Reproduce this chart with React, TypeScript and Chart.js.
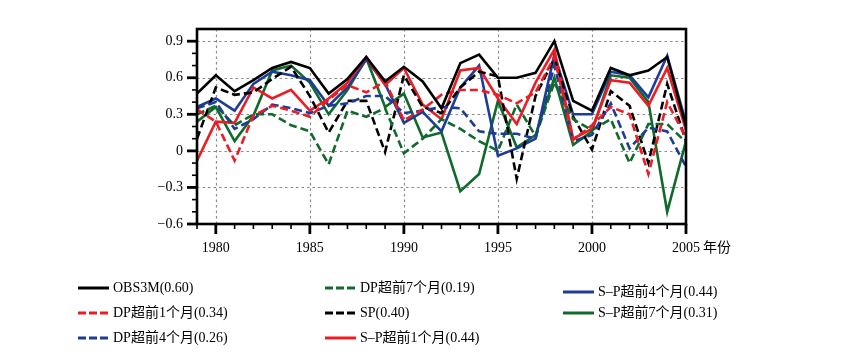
import React, { useEffect, useRef } from "react";
import { Chart, registerables } from "chart.js";

Chart.register(...registerables);

// ---------- data ----------
const years = [
  1979, 1980, 1981, 1982, 1983, 1984, 1985, 1986, 1987, 1988, 1989, 1990, 1991, 1992,
  1993, 1994, 1995, 1996, 1997, 1998, 1999, 2000, 2001, 2002, 2003, 2004, 2005,
];
const obs3m = [0.47, 0.62, 0.49, 0.58, 0.68, 0.73, 0.68, 0.47, 0.59, 0.77, 0.57, 0.69, 0.57, 0.35, 0.72, 0.79, 0.6, 0.6, 0.64, 0.9, 0.41, 0.33, 0.68, 0.62, 0.66, 0.77, 0.2];
const dp1 = [0.34, 0.24, -0.08, 0.29, 0.37, 0.33, 0.28, 0.42, 0.54, 0.48, 0.57, 0.25, 0.34, 0.46, 0.5, 0.5, 0.46, 0.39, 0.48, 0.77, 0.09, 0.21, 0.36, 0.3, -0.19, 0.4, 0.11];
const dp4 = [0.35, 0.4, 0.18, 0.26, 0.38, 0.35, 0.31, 0.37, 0.39, 0.45, 0.45, 0.31, 0.33, 0.36, 0.35, 0.16, 0.14, 0.14, 0.1, 0.7, 0.08, 0.13, 0.39, 0.02, 0.19, 0.16, -0.13];
const dp7 = [0.3, 0.37, 0.21, 0.3, 0.3, 0.21, 0.16, -0.11, 0.33, 0.28, 0.35, -0.02, 0.1, 0.26, 0.18, 0.08, 0.0, 0.38, 0.12, 0.56, 0.26, 0.17, 0.26, -0.1, 0.22, 0.22, 0.07];
const sp = [0.1, 0.52, 0.46, 0.48, 0.59, 0.69, 0.45, 0.15, 0.41, 0.41, -0.01, 0.62, 0.36, 0.31, 0.52, 0.65, 0.61, -0.23, 0.45, 0.76, 0.28, 0.01, 0.49, 0.37, -0.1, 0.55, 0.08];
const sp1 = [-0.08, 0.24, 0.23, 0.52, 0.43, 0.5, 0.33, 0.43, 0.56, 0.77, 0.54, 0.68, 0.38, 0.26, 0.66, 0.68, 0.43, 0.22, 0.56, 0.83, 0.1, 0.18, 0.58, 0.56, 0.37, 0.68, 0.17];
const sp4 = [0.36, 0.43, 0.33, 0.55, 0.65, 0.62, 0.58, 0.37, 0.52, 0.75, 0.55, 0.23, 0.32, 0.16, 0.52, 0.7, -0.04, 0.02, 0.1, 0.79, 0.3, 0.3, 0.65, 0.62, 0.44, 0.78, 0.23];
const sp7 = [0.24, 0.36, 0.08, 0.29, 0.66, 0.7, 0.56, 0.3, 0.5, 0.76, 0.36, 0.47, 0.11, 0.15, -0.33, -0.19, 0.41, 0.03, 0.13, 0.6, 0.05, 0.16, 0.62, 0.6, 0.4, -0.5, 0.08];

const seriesLabels = [
  "OBS3M(0.60)",
  "DP超前1个月(0.34)",
  "DP超前4个月(0.26)",
  "DP超前7个月(0.19)",
  "SP(0.40)",
  "S–P超前1个月(0.44)",
  "S–P超前4个月(0.44)",
  "S–P超前7个月(0.31)",
];
const seriesValues = [obs3m, dp1, dp4, dp7, sp, sp1, sp4, sp7];

const yTickValues = [-0.6, -0.3, 0, 0.3, 0.6, 0.9];
const yMinorValues = [-0.5, -0.4, -0.2, -0.1, 0.1, 0.2, 0.4, 0.5, 0.7, 0.8];
const xTickValues = [1980, 1985, 1990, 1995, 2000, 2005];
const xAxisUnit = "年份";

// ---------- styles ----------
const BLACK = "#000000";
const RED = "#ec1c24";
const BLUE = "#1d3c96";
const GREEN = "#0f6a2c";
const seriesColors = [BLACK, RED, BLUE, GREEN, BLACK, RED, BLUE, GREEN];
const seriesDashed = [false, true, true, true, true, false, false, false];

const FONT = "'Liberation Serif', 'Noto Sans CJK SC', serif";

const legendSlots = [
  { left: 78, top: 288 },
  { left: 78, top: 313 },
  { left: 78, top: 338 },
  { left: 325, top: 288 },
  { left: 325, top: 313 },
  { left: 325, top: 338 },
  { left: 563, top: 292 },
  { left: 563, top: 313 },
];

function fmtY(v: number): string {
  const r = Math.round(v * 10) / 10;
  if (r === 0) return "0";
  return r.toFixed(1).replace("-", "\u2212");
}

const decoPlugin = {
  id: "deco",
  beforeDatasetsDraw(chart: any) {
    const { ctx, chartArea: a, scales } = chart;
    const x = scales.x;
    const y = scales.y;
    ctx.save();
    ctx.strokeStyle = "#8a8a8a";
    ctx.lineWidth = 1.2;
    ctx.setLineDash([2.5, 3]);
    for (const v of xTickValues) {
      if (v >= x.max || v <= x.min) continue;
      const px = Math.round(x.getPixelForValue(v)) + 0.5;
      ctx.beginPath();
      ctx.moveTo(px, a.top);
      ctx.lineTo(px, a.bottom);
      ctx.stroke();
    }
    for (const v of yTickValues) {
      if (v <= y.min || v >= y.max) continue;
      const py = Math.round(y.getPixelForValue(v)) + 0.5;
      ctx.beginPath();
      ctx.moveTo(a.left, py);
      ctx.lineTo(a.right, py);
      ctx.stroke();
    }
    ctx.restore();
  },
  afterDraw(chart: any) {
    const { ctx, chartArea: a, scales } = chart;
    const x = scales.x;
    const y = scales.y;
    ctx.save();
    ctx.setLineDash([]);
    ctx.strokeStyle = "#000";
    // frame
    ctx.lineWidth = 2.6;
    ctx.strokeRect(a.left, a.top, a.right - a.left, a.bottom - a.top);
    // x ticks
    for (const yr of years) {
      const major = xTickValues.includes(yr);
      const px = x.getPixelForValue(yr);
      ctx.lineWidth = major ? 2.8 : 1.6;
      ctx.beginPath();
      ctx.moveTo(px, a.bottom);
      ctx.lineTo(px, a.bottom + (major ? 10 : 5));
      ctx.stroke();
    }
    // y ticks
    for (const v of yTickValues) {
      const py = y.getPixelForValue(v);
      ctx.lineWidth = 2.8;
      ctx.beginPath();
      ctx.moveTo(a.left, py);
      ctx.lineTo(a.left - 10, py);
      ctx.stroke();
    }
    for (const v of yMinorValues) {
      const py = y.getPixelForValue(v);
      ctx.lineWidth = 1.6;
      ctx.beginPath();
      ctx.moveTo(a.left, py);
      ctx.lineTo(a.left - 5, py);
      ctx.stroke();
    }
    // axis unit text
    ctx.fillStyle = "#000";
    ctx.font = "14px " + FONT;
    ctx.textBaseline = "middle";
    ctx.textAlign = "left";
    ctx.fillText(xAxisUnit, x.getPixelForValue(2005) + 17, a.bottom + 24);
    ctx.restore();
  },
};

export default function App() {
  const canvasRef = useRef<HTMLCanvasElement | null>(null);

  useEffect(() => {
    document.body.style.margin = "0";
    const canvas = canvasRef.current;
    if (!canvas) return;
    const datasets = seriesValues.map((vals, i) => ({
      label: seriesLabels[i],
      data: years.map((yr, j) => ({ x: yr, y: vals[j] })),
      borderColor: seriesColors[i],
      backgroundColor: seriesColors[i],
      borderWidth: 2.6,
      borderDash: seriesDashed[i] ? [8, 4] : [],
      pointRadius: 0,
      tension: 0,
      fill: false,
    }));
    const chart = new Chart(canvas, {
      type: "line",
      data: { datasets },
      plugins: [decoPlugin],
      options: {
        animation: false,
        responsive: false,
        devicePixelRatio: 1,
        layout: { padding: { left: 0, top: 29, right: 164, bottom: 0 } },
        plugins: { legend: { display: false }, tooltip: { enabled: false } },
        scales: {
          x: {
            type: "linear",
            min: 1979,
            max: 2005,
            grid: { display: false, drawTicks: false },
            border: { display: false },
            afterBuildTicks: (scale: any) => {
              scale.ticks = xTickValues.map((v) => ({ value: v }));
            },
            afterFit: (scale: any) => {
              scale.height = 130;
            },
            ticks: {
              padding: 16,
              maxRotation: 0,
              autoSkip: false,
              color: "#000",
              font: { family: FONT, size: 14 },
              callback: (v: any) => String(v),
            },
          },
          y: {
            type: "linear",
            min: -0.6,
            max: 1.0,
            grid: { display: false, drawTicks: false },
            border: { display: false },
            afterBuildTicks: (scale: any) => {
              scale.ticks = yTickValues.map((v) => ({ value: v }));
            },
            afterFit: (scale: any) => {
              scale.width = 197;
            },
            ticks: {
              padding: 14,
              autoSkip: false,
              color: "#000",
              font: { family: FONT, size: 14 },
              callback: (v: any) => fmtY(Number(v)),
            },
          },
        },
      },
    } as any);
    return () => chart.destroy();
  }, []);

  return (
    <div style={{ position: "relative", width: 850, height: 354, background: "#fff", overflow: "hidden" }}>
      <canvas ref={canvasRef} width={850} height={354} style={{ position: "absolute", left: 0, top: 0 }} />
      {seriesLabels.map((label, i) => (
        <div
          key={label}
          style={{
            position: "absolute",
            left: legendSlots[i].left,
            top: legendSlots[i].top - 9,
            height: 18,
            display: "flex",
            alignItems: "center",
            whiteSpace: "nowrap",
          }}
        >
          <svg width={31} height={4} style={{ display: "block" }}>
            <line
              x1={0}
              y1={2}
              x2={31}
              y2={2}
              stroke={seriesColors[i]}
              strokeWidth={3}
              strokeDasharray={seriesDashed[i] ? "8 3" : undefined}
            />
          </svg>
          <span style={{ marginLeft: 4, fontFamily: FONT, fontSize: 14, lineHeight: "18px", color: "#000" }}>
            {label}
          </span>
        </div>
      ))}
    </div>
  );
}
